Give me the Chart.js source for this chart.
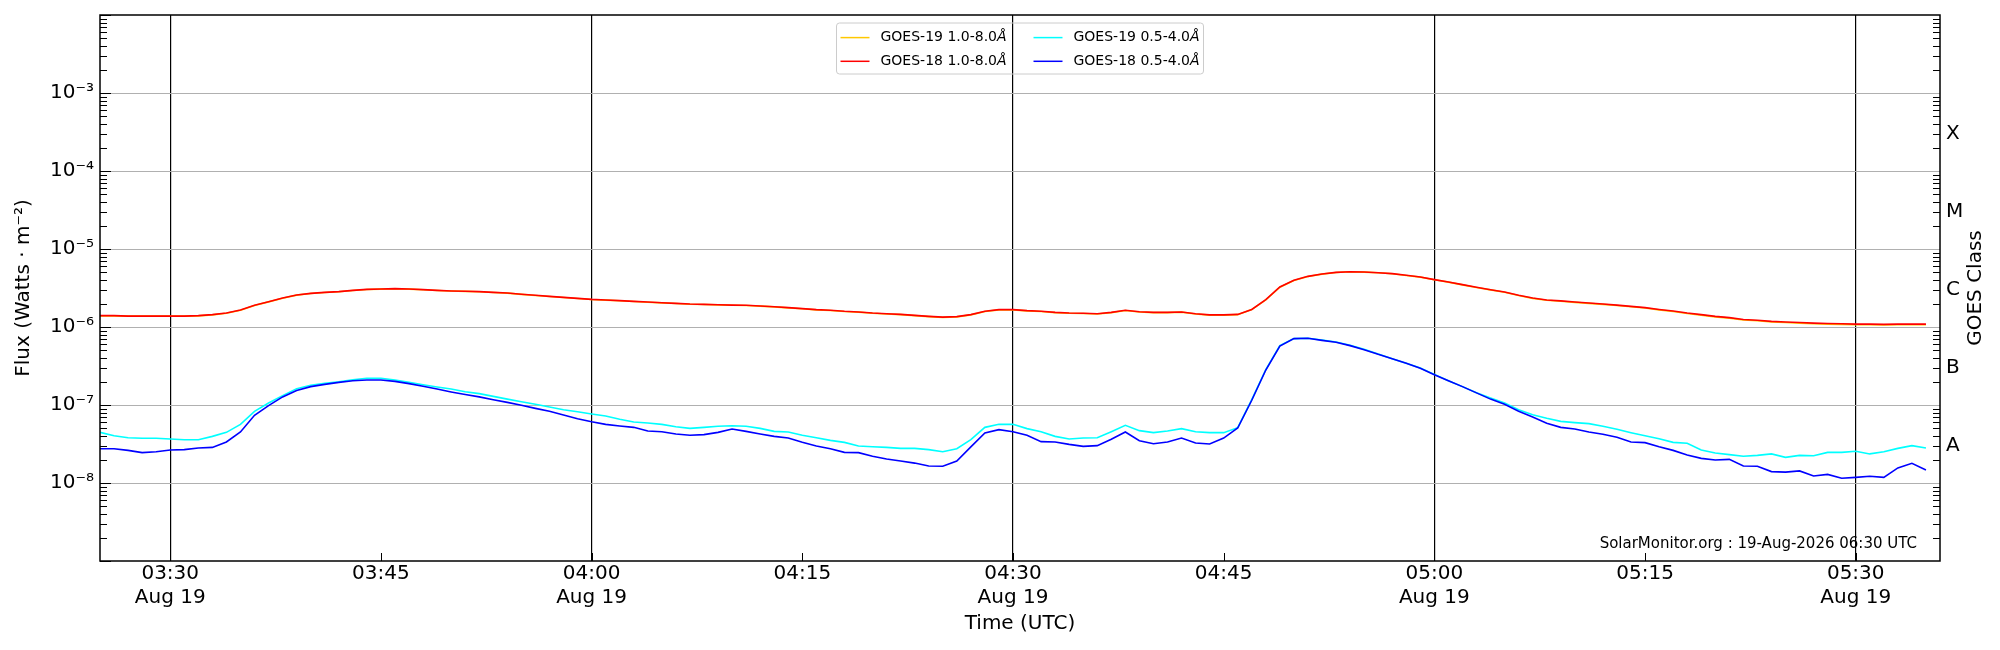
<!DOCTYPE html>
<html>
<head>
<meta charset="utf-8">
<title>GOES X-ray flux</title>
<script src="https://cdn.jsdelivr.net/npm/chart.js@4.4.1/dist/chart.umd.min.js"></script>
<style>
  html, body { margin: 0; padding: 0; background: #fff; }
  canvas { display: block; }
</style>
</head>
<body>
<canvas id="goes" width="2000" height="650"></canvas>
<script>
// one reading per minute, starting at startTime
const startTime = '03:25';
const axisStart = '03:25';
const axisEnd = '05:36';
const dateLabel = 'Aug 19';
const timeTicks = ['03:30', '03:45', '04:00', '04:15', '04:30', '04:45', '05:00', '05:15', '05:30'];

const fluxTicks = [1e-8, 1e-7, 1e-6, 1e-5, 1e-4, 1e-3];
const fluxLabels = ['10⁻⁸', '10⁻⁷', '10⁻⁶', '10⁻⁵', '10⁻⁴', '10⁻³'];
const classTicks = [3e-8, 3e-7, 3e-6, 3e-5, 3e-4];
const classLabels = ['A', 'B', 'C', 'M', 'X'];

const seriesLabels = ['GOES-19 1.0-8.0Å', 'GOES-18 1.0-8.0Å', 'GOES-19 0.5-4.0Å', 'GOES-18 0.5-4.0Å'];
const stamp = 'SolarMonitor.org : 19-Aug-2026 06:30 UTC';

const g19Long = [
  1.39e-6, 1.39e-6, 1.38e-6, 1.38e-6, 1.38e-6, 1.38e-6, 1.38e-6, 1.39e-6, 1.43e-6, 1.50e-6,
  1.64e-6, 1.89e-6, 2.10e-6, 2.34e-6, 2.56e-6, 2.69e-6, 2.77e-6, 2.83e-6, 2.94e-6, 3.03e-6,
  3.06e-6, 3.09e-6, 3.06e-6, 3.00e-6, 2.94e-6, 2.89e-6, 2.86e-6, 2.83e-6, 2.77e-6, 2.72e-6,
  2.62e-6, 2.54e-6, 2.46e-6, 2.39e-6,
  2.32e-6, 2.25e-6, 2.21e-6, 2.17e-6, 2.12e-6, 2.08e-6, 2.04e-6, 2.00e-6, 1.96e-6, 1.94e-6,
  1.92e-6, 1.90e-6, 1.89e-6, 1.85e-6, 1.81e-6, 1.76e-6, 1.71e-6, 1.66e-6, 1.63e-6, 1.58e-6,
  1.55e-6, 1.50e-6, 1.47e-6, 1.44e-6, 1.40e-6, 1.36e-6, 1.33e-6, 1.35e-6, 1.43e-6, 1.58e-6,
  1.66e-6, 1.66e-6, 1.61e-6,
  1.58e-6, 1.53e-6, 1.50e-6, 1.49e-6, 1.47e-6, 1.53e-6, 1.63e-6, 1.56e-6, 1.53e-6, 1.53e-6,
  1.55e-6, 1.47e-6, 1.42e-6, 1.42e-6, 1.44e-6, 1.67e-6, 2.22e-6, 3.24e-6, 3.95e-6, 4.44e-6,
  4.76e-6, 5.00e-6, 5.10e-6, 5.05e-6, 4.95e-6, 4.81e-6, 4.58e-6, 4.36e-6, 4.03e-6, 3.76e-6,
  3.47e-6, 3.21e-6,
  2.99e-6, 2.79e-6, 2.53e-6, 2.33e-6, 2.20e-6, 2.14e-6, 2.07e-6, 2.01e-6, 1.95e-6, 1.89e-6,
  1.82e-6, 1.75e-6, 1.66e-6, 1.58e-6, 1.49e-6, 1.42e-6, 1.35e-6, 1.30e-6, 1.23e-6, 1.20e-6,
  1.16e-6, 1.14e-6, 1.12e-6, 1.10e-6, 1.09e-6, 1.08e-6, 1.07e-6, 1.07e-6, 1.06e-6, 1.07e-6,
  1.07e-6, 1.07e-6
];

const g18Long = [
  1.40e-6, 1.40e-6, 1.38e-6, 1.38e-6, 1.38e-6, 1.38e-6, 1.38e-6, 1.40e-6, 1.44e-6, 1.51e-6,
  1.65e-6, 1.90e-6, 2.11e-6, 2.35e-6, 2.57e-6, 2.70e-6, 2.78e-6, 2.84e-6, 2.95e-6, 3.04e-6,
  3.07e-6, 3.10e-6, 3.07e-6, 3.01e-6, 2.95e-6, 2.90e-6, 2.87e-6, 2.84e-6, 2.78e-6, 2.73e-6,
  2.63e-6, 2.55e-6, 2.47e-6, 2.40e-6,
  2.33e-6, 2.26e-6, 2.22e-6, 2.18e-6, 2.13e-6, 2.09e-6, 2.05e-6, 2.01e-6, 1.97e-6, 1.95e-6,
  1.93e-6, 1.91e-6, 1.90e-6, 1.86e-6, 1.82e-6, 1.77e-6, 1.72e-6, 1.67e-6, 1.64e-6, 1.59e-6,
  1.56e-6, 1.51e-6, 1.48e-6, 1.45e-6, 1.41e-6, 1.37e-6, 1.34e-6, 1.36e-6, 1.44e-6, 1.59e-6,
  1.67e-6, 1.67e-6, 1.62e-6,
  1.59e-6, 1.54e-6, 1.51e-6, 1.50e-6, 1.48e-6, 1.54e-6, 1.64e-6, 1.57e-6, 1.54e-6, 1.54e-6,
  1.56e-6, 1.48e-6, 1.43e-6, 1.43e-6, 1.45e-6, 1.68e-6, 2.24e-6, 3.26e-6, 3.97e-6, 4.46e-6,
  4.78e-6, 5.02e-6, 5.12e-6, 5.07e-6, 4.97e-6, 4.83e-6, 4.60e-6, 4.38e-6, 4.05e-6, 3.78e-6,
  3.49e-6, 3.23e-6,
  3.01e-6, 2.81e-6, 2.55e-6, 2.35e-6, 2.22e-6, 2.16e-6, 2.09e-6, 2.03e-6, 1.97e-6, 1.91e-6,
  1.84e-6, 1.77e-6, 1.68e-6, 1.60e-6, 1.51e-6, 1.44e-6, 1.37e-6, 1.32e-6, 1.25e-6, 1.22e-6,
  1.18e-6, 1.16e-6, 1.14e-6, 1.12e-6, 1.11e-6, 1.10e-6, 1.09e-6, 1.09e-6, 1.08e-6, 1.09e-6,
  1.09e-6, 1.09e-6
];

const g19Short = [
  4.46e-8, 4.04e-8, 3.81e-8, 3.74e-8, 3.74e-8, 3.66e-8, 3.59e-8, 3.59e-8, 3.96e-8, 4.46e-8,
  5.65e-8, 8.30e-8, 10.6e-8, 13.2e-8, 16.2e-8, 17.9e-8, 19.0e-8, 19.9e-8, 21.1e-8, 22.0e-8,
  22.0e-8, 20.9e-8, 19.5e-8, 18.2e-8, 17.0e-8, 16.0e-8, 14.8e-8, 14.0e-8, 12.9e-8, 11.9e-8,
  11.0e-8, 10.2e-8, 9.42e-8, 8.71e-8,
  8.21e-8, 7.67e-8, 7.23e-8, 6.55e-8, 6.05e-8, 5.88e-8, 5.65e-8, 5.27e-8, 5.02e-8, 5.17e-8,
  5.33e-8, 5.43e-8, 5.33e-8, 5.02e-8, 4.59e-8, 4.51e-8, 4.09e-8, 3.81e-8, 3.52e-8, 3.32e-8,
  2.98e-8, 2.92e-8, 2.86e-8, 2.78e-8, 2.78e-8, 2.68e-8, 2.52e-8, 2.75e-8, 3.59e-8, 5.17e-8,
  5.65e-8, 5.65e-8, 4.98e-8,
  4.55e-8, 3.96e-8, 3.66e-8, 3.77e-8, 3.81e-8, 4.55e-8, 5.48e-8, 4.69e-8, 4.42e-8, 4.65e-8,
  4.98e-8, 4.55e-8, 4.42e-8, 4.42e-8, 5.12e-8, 11.7e-8, 28.4e-8, 57.7e-8, 70.9e-8, 71.6e-8,
  68.1e-8, 64.2e-8, 58.2e-8, 51.7e-8, 45.1e-8, 39.3e-8, 34.2e-8, 29.8e-8, 24.7e-8, 20.5e-8,
  17.2e-8, 14.4e-8,
  12.3e-8, 10.6e-8, 8.71e-8, 7.52e-8, 6.75e-8, 6.17e-8, 5.94e-8, 5.77e-8, 5.33e-8, 4.88e-8,
  4.42e-8, 4.04e-8, 3.70e-8, 3.32e-8, 3.23e-8, 2.65e-8, 2.43e-8, 2.31e-8, 2.20e-8, 2.26e-8,
  2.36e-8, 2.13e-8, 2.26e-8, 2.24e-8, 2.47e-8, 2.47e-8, 2.55e-8, 2.36e-8, 2.52e-8, 2.78e-8,
  3.01e-8, 2.81e-8
];

const g18Short = [
  2.75e-8, 2.75e-8, 2.62e-8, 2.45e-8, 2.52e-8, 2.65e-8, 2.68e-8, 2.81e-8, 2.86e-8, 3.36e-8,
  4.51e-8, 7.38e-8, 9.80e-8, 12.7e-8, 15.3e-8, 17.2e-8, 18.4e-8, 19.5e-8, 20.5e-8, 20.9e-8,
  20.9e-8, 20.1e-8, 18.8e-8, 17.4e-8, 16.0e-8, 14.7e-8, 13.6e-8, 12.7e-8, 11.7e-8, 10.8e-8,
  9.91e-8, 9.06e-8, 8.30e-8, 7.45e-8,
  6.68e-8, 6.11e-8, 5.65e-8, 5.38e-8, 5.17e-8, 4.65e-8, 4.55e-8, 4.25e-8, 4.09e-8, 4.17e-8,
  4.46e-8, 4.92e-8, 4.59e-8, 4.25e-8, 3.96e-8, 3.77e-8, 3.32e-8, 2.98e-8, 2.75e-8, 2.47e-8,
  2.45e-8, 2.20e-8, 2.03e-8, 1.91e-8, 1.80e-8, 1.65e-8, 1.64e-8, 1.91e-8, 2.90e-8, 4.38e-8,
  4.83e-8, 4.55e-8, 4.09e-8,
  3.39e-8, 3.36e-8, 3.13e-8, 2.95e-8, 3.01e-8, 3.63e-8, 4.51e-8, 3.49e-8, 3.19e-8, 3.36e-8,
  3.77e-8, 3.26e-8, 3.16e-8, 3.77e-8, 5.07e-8, 11.5e-8, 28.1e-8, 57.1e-8, 70.9e-8, 71.6e-8,
  67.4e-8, 63.6e-8, 57.7e-8, 51.2e-8, 44.6e-8, 39.3e-8, 34.2e-8, 29.5e-8, 24.5e-8, 20.5e-8,
  17.2e-8, 14.3e-8,
  11.9e-8, 10.2e-8, 8.30e-8, 7.02e-8, 5.82e-8, 5.17e-8, 4.92e-8, 4.51e-8, 4.21e-8, 3.85e-8,
  3.36e-8, 3.29e-8, 2.92e-8, 2.62e-8, 2.29e-8, 2.07e-8, 1.97e-8, 2.01e-8, 1.65e-8, 1.64e-8,
  1.40e-8, 1.38e-8, 1.43e-8, 1.23e-8, 1.29e-8, 1.15e-8, 1.18e-8, 1.22e-8, 1.18e-8, 1.56e-8,
  1.79e-8, 1.47e-8
];

function toMin(hhmm) {
  const [h, m] = hhmm.split(':').map(Number);
  return h * 60 + m;
}
function fmtMin(v) {
  const h = Math.floor(v / 60), m = v % 60;
  return String(h).padStart(2, '0') + ':' + String(m).padStart(2, '0');
}
function series(vals) {
  const t0 = toMin(startTime);
  return vals.map((v, i) => ({ x: t0 + i, y: v }));
}

// log ticks 1..9 x 10^n between the axis limits, decades flagged
function logTicks(minExp, maxExp) {
  const out = [];
  for (let e = minExp; e <= maxExp; e++) {
    for (let k = 1; k <= 9; k++) {
      if (e === maxExp && k > 1) break;
      const value = Number((k + 'e' + e));
      const idx = fluxTicks.findIndex(f => Math.abs(f - value) / value < 1e-6);
      out.push({ value, decade: k === 1, text: idx >= 0 ? fluxLabels[idx] : '', grid: idx >= 0 });
    }
  }
  return out;
}

// fixed box sizes so the plot area lands where the reference has it
function fixBox(size) {
  return s => {
    if (s.isHorizontal()) s.height = size; else s.width = size;
    s.paddingTop = 0; s.paddingBottom = 0; s.paddingLeft = 0; s.paddingRight = 0;
  };
}

const goesDecor = {
  id: 'goesDecor',
  afterDraw(chart) {
    const { ctx, chartArea: a, scales } = chart;
    const { x, y, y2 } = scales;
    const seg = (x1, y1, x2, y2_) => { ctx.beginPath(); ctx.moveTo(x1, y1); ctx.lineTo(x2, y2_); ctx.stroke(); };
    ctx.save();
    ctx.strokeStyle = '#000';
    ctx.lineWidth = 1;

    // inward ticks
    y.ticks.forEach(t => {
      const py = Math.round(y.getPixelForValue(t.value)) + 0.5;
      seg(a.left, py, a.left + (t.decade ? 11 : 7), py);
      if (!t.decade) seg(a.right, py, a.right - 7, py);
    });
    y2.ticks.forEach(t => {
      const py = Math.round(y2.getPixelForValue(t.value)) + 0.5;
      seg(a.right, py, a.right - 7, py);
    });
    x.ticks.forEach(t => {
      const px = Math.round(x.getPixelForValue(t.value)) + 0.5;
      seg(px, a.bottom, px, a.bottom - 8);
    });

    // frame
    ctx.lineWidth = 1.5;
    ctx.strokeRect(a.left, a.top, a.right - a.left, a.bottom - a.top);

    // legend, two columns, upper centre
    const w = 367, h = 51;
    const lx = (a.left + a.right) / 2 - w / 2, ly = a.top + 8;
    ctx.lineWidth = 1;
    ctx.strokeStyle = '#cccccc';
    ctx.beginPath();
    ctx.roundRect(lx, ly, w, h, 3);
    ctx.stroke();
    const colX = [lx + 4, lx + 197];
    const rowY = [ly + 14.6, ly + 38.3];
    chart.data.datasets.forEach((ds, i) => {
      const cx = colX[Math.floor(i / 2)], cy = rowY[i % 2];
      ctx.strokeStyle = ds.borderColor;
      ctx.lineWidth = 1.5;
      seg(cx, cy, cx + 29, cy);
      ctx.fillStyle = '#000';
      ctx.textAlign = 'left';
      ctx.textBaseline = 'middle';
      const main = ds.label.slice(0, -1);
      ctx.font = '14px "DejaVu Sans"';
      ctx.fillText(main, cx + 40, cy);
      const mw = ctx.measureText(main).width;
      ctx.font = 'italic 14px "DejaVu Sans"';
      ctx.fillText(ds.label.slice(-1), cx + 40 + mw, cy);
    });

    // stamp
    ctx.fillStyle = '#000';
    ctx.font = '15px "DejaVu Sans"';
    ctx.textAlign = 'right';
    ctx.textBaseline = 'middle';
    ctx.fillText(stamp, a.right - 23, a.bottom - 17);

    // right axis title, reads bottom to top
    ctx.translate(a.right + 36, (a.top + a.bottom) / 2);
    ctx.rotate(-Math.PI / 2);
    ctx.font = '20px "DejaVu Sans"';
    ctx.textAlign = 'center';
    ctx.fillText('GOES Class', 0, 0);
    ctx.restore();
  }
};

Chart.defaults.font.family = '"DejaVu Sans"';
Chart.defaults.color = '#000';

const ctx = document.getElementById('goes').getContext('2d');

new Chart(ctx, {
  type: 'line',
  data: {
    datasets: [
      { label: seriesLabels[0], data: series(g19Long), borderColor: '#ffc800', order: 4 },
      { label: seriesLabels[1], data: series(g18Long), borderColor: '#ff0000', order: 3 },
      { label: seriesLabels[2], data: series(g19Short), borderColor: '#00ffff', order: 2 },
      { label: seriesLabels[3], data: series(g18Short), borderColor: '#0000ff', order: 1 }
    ]
  },
  options: {
    responsive: false,
    animation: false,
    devicePixelRatio: 1,
    layout: { padding: { top: 15, left: 0, right: 0, bottom: 0 } },
    elements: {
      point: { radius: 0 },
      line: { borderWidth: 1.6, tension: 0, fill: false }
    },
    plugins: {
      legend: { display: false },
      tooltip: { enabled: false }
    },
    scales: {
      x: {
        type: 'linear',
        min: toMin(axisStart),
        max: toMin(axisEnd),
        afterBuildTicks: s => { s.ticks = timeTicks.map(t => ({ value: toMin(t) })); },
        afterFit: fixBox(89),
        grid: {
          color: c => (c.tick && c.tick.value % 30 === 0) ? '#000' : 'rgba(0,0,0,0)',
          lineWidth: 1.2,
          drawTicks: false
        },
        border: { display: false },
        ticks: {
          autoSkip: false,
          maxRotation: 0,
          padding: 1,
          font: { size: 20 },
          callback: v => v % 30 === 0 ? [fmtMin(v), dateLabel] : fmtMin(v)
        },
        title: {
          display: true,
          text: 'Time (UTC)',
          font: { size: 20 },
          padding: { top: 0, bottom: 14 }
        }
      },
      y: {
        type: 'logarithmic',
        position: 'left',
        min: 1e-9,
        max: 1e-2,
        afterBuildTicks: s => { s.ticks = logTicks(-9, -2); },
        afterFit: fixBox(100),
        grid: {
          color: c => (c.tick && c.tick.grid) ? '#b0b0b0' : 'rgba(0,0,0,0)',
          lineWidth: 1,
          drawTicks: false
        },
        border: { display: false },
        ticks: {
          autoSkip: false,
          padding: 6,
          font: { size: 20 },
          callback: (v, i, ticks) => ticks[i].text || ''
        },
        title: {
          display: true,
          text: 'Flux (Watts · m⁻²)',
          font: { size: 20 },
          padding: { top: 12, bottom: 0 }
        }
      },
      y2: {
        type: 'logarithmic',
        position: 'right',
        min: 1e-9,
        max: 1e-2,
        afterBuildTicks: s => { s.ticks = classTicks.map(v => ({ value: v })); },
        afterFit: fixBox(60),
        grid: { drawOnChartArea: false, drawTicks: false },
        border: { display: false },
        ticks: {
          autoSkip: false,
          padding: 6,
          font: { size: 20 },
          callback: (v, i) => classLabels[i]
        }
      }
    }
  },
  plugins: [goesDecor]
});
</script>
</body>
</html>
